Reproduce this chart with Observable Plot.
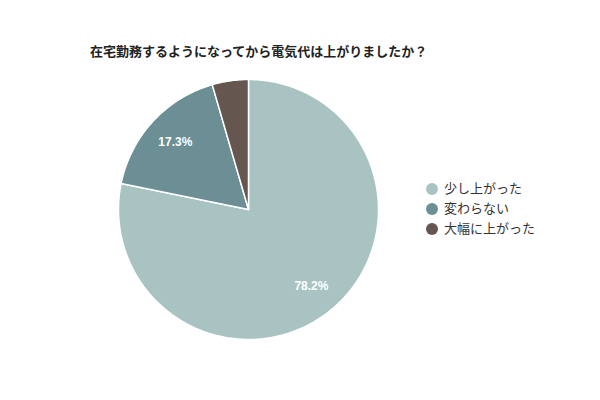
<!DOCTYPE html>
<html>
<head>
<meta charset="utf-8">
<script src="https://cdn.jsdelivr.net/npm/d3@7"></script>
<script src="https://cdn.jsdelivr.net/npm/@observablehq/plot@0.6"></script>
<style>
  body { margin: 0; background: #fff; font-family: Arial, "Liberation Sans", "Noto Sans CJK JP", sans-serif; }
  #wrap { position: relative; width: 600px; height: 400px; overflow: hidden; }
  #title { position: absolute; left: 90px; top: 41px; font-size: 13px; font-weight: bold; color: #222; white-space: nowrap; }
  #chart { position: absolute; left: 0; top: 0; }
  #legend { position: absolute; left: 426px; top: 179px; font-size: 13px; color: #333; }
  .row { display: flex; align-items: center; height: 20px; line-height: 20px; }
  .sw { width: 12px; height: 12px; border-radius: 50%; margin-right: 6px; flex: none; }
</style>
</head>
<body>
<div id="wrap">
  <div id="chart"></div>
  <div id="title"></div>
  <div id="legend"></div>
</div>
<script>
const title = "在宅勤務するようになってから電気代は上がりましたか？";
const categories = ["少し上がった", "変わらない", "大幅に上がった"];
const values = [78.2, 17.3, 4.5];
const colors = ["#a9c3c3", "#6b8f95", "#655750"];
const labelMin = 5;

document.getElementById("title").textContent = title;

// build slice polygons from the data (angle clockwise from 12 o'clock)
const total = d3.sum(values);
const pts = [];
const labels = [];
let acc = 0;
values.forEach((v, i) => {
  const a0 = acc / total * 2 * Math.PI;
  const a1 = (acc + v) / total * 2 * Math.PI;
  acc += v;
  const cat = categories[i];
  pts.push({cat, x: 0, y: 0});
  const n = Math.max(2, Math.ceil((a1 - a0) / (Math.PI / 180)));
  for (let k = 0; k <= n; k++) {
    const a = a0 + (a1 - a0) * k / n;
    pts.push({cat, x: Math.sin(a), y: Math.cos(a)});
  }
  pts.push({cat, x: 0, y: 0});
  if (v >= labelMin) {
    const am = (a0 + a1) / 2;
    labels.push({cat, x: 0.765 * Math.sin(am), y: 0.765 * Math.cos(am), text: v.toFixed(1) + "%"});
  }
});

const plot = Plot.plot({
  width: 600,
  height: 400,
  marginLeft: 118,
  marginRight: 222,
  marginTop: 79,
  marginBottom: 61,
  x: {domain: [-1, 1], axis: null},
  y: {domain: [-1, 1], axis: null},
  color: {domain: categories, range: colors},
  style: {background: "transparent", overflow: "visible"},
  marks: [
    Plot.line(pts, {x: "x", y: "y", z: "cat", fill: "cat", stroke: "white", strokeWidth: 1.5, strokeLinejoin: "round"}),
    Plot.text(labels, {x: "x", y: "y", text: "text", fill: "white", fontSize: 12, fontWeight: "bold", fontFamily: "Arial, 'Liberation Sans', sans-serif"})
  ]
});
document.getElementById("chart").appendChild(plot);

const legend = document.getElementById("legend");
categories.forEach((c, i) => {
  const row = document.createElement("div");
  row.className = "row";
  const sw = document.createElement("span");
  sw.className = "sw";
  sw.style.background = plot.scale("color").apply(c);
  const t = document.createElement("span");
  t.textContent = c;
  row.appendChild(sw);
  row.appendChild(t);
  legend.appendChild(row);
});
</script>
</body>
</html>
